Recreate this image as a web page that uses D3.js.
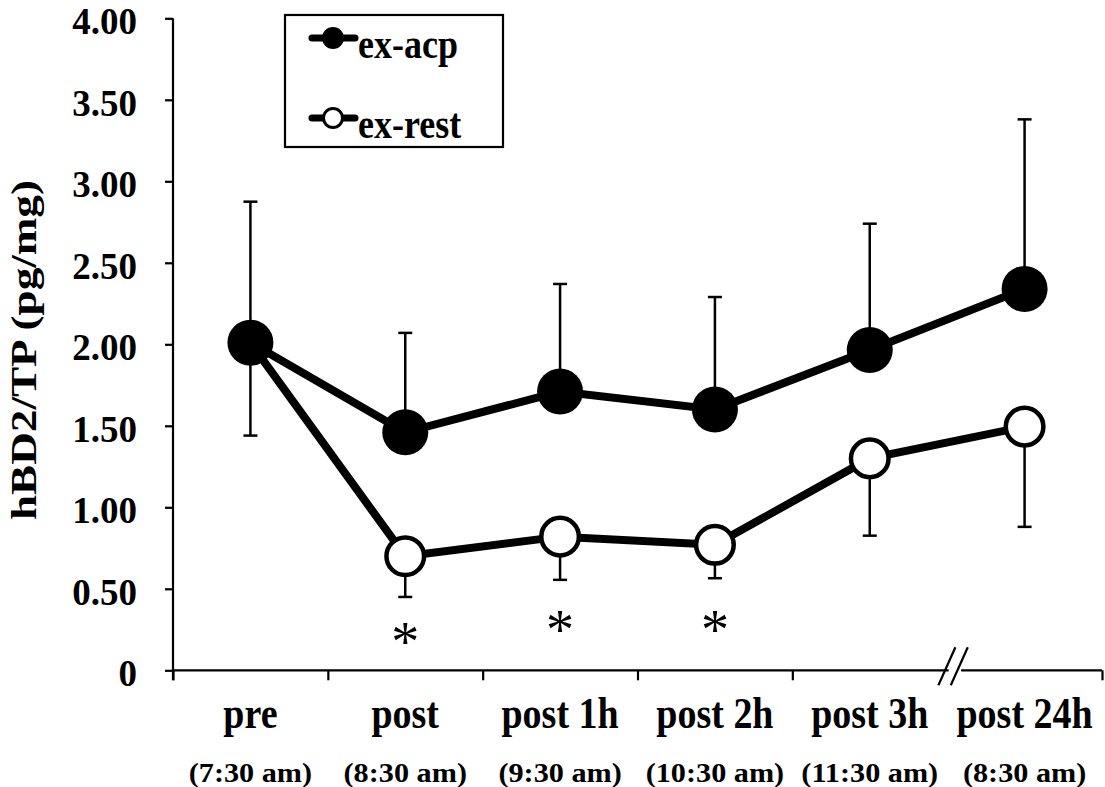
<!DOCTYPE html>
<html>
<head>
<meta charset="utf-8">
<script src="https://cdn.jsdelivr.net/npm/d3@7"></script>
<style>
  body { margin: 0; background: #fff; }
  text { font-family: "Liberation Serif", "Times New Roman", serif; font-weight: bold; fill: #000; }
</style>
</head>
<body>
<div id="chart"></div>
<script>
// categories and time labels
var categories = ["pre", "post", "post 1h", "post 2h", "post 3h", "post 24h"];
var times = ["(7:30 am)", "(8:30 am)", "(9:30 am)", "(10:30 am)", "(11:30 am)", "(8:30 am)"];

// series means
var acpMean = [2.01, 1.46, 1.71, 1.60, 1.965, 2.34];
var restMean = [2.01, 0.70, 0.82, 0.77, 1.30, 1.495];
// error bar ends (acp upward, rest downward)
var acpUpper = [2.875, 2.07, 2.37, 2.29, 2.74, 3.38];
var restLower = [1.44, 0.45, 0.555, 0.565, 0.826, 0.88];

// significance markers
var sigCats = ["post", "post 1h", "post 2h"];
var sigY = [0.223, 0.296, 0.296];

var yTicks = [0, 0.5, 1, 1.5, 2, 2.5, 3, 3.5, 4];
var legendNames = ["ex-acp", "ex-rest"];

function init() {
    var w = 1105, h = 787;
    var left = 173, right = 1102, top = 18.3, bottom = 670.3;

    var svg = d3.select("#chart").append("svg")
        .attr("width", w).attr("height", h);

    var x = d3.scaleBand().domain(categories).range([left, right]);
    var xEdge = d3.scaleLinear().domain([0, categories.length]).range([left, right]);
    var y = d3.scaleLinear().domain([0, 4]).range([bottom, top]);
    var cx = function(c) { return x(c) + x.bandwidth() / 2; };

    // y axis
    var yAxis = svg.append("g")
        .attr("transform", "translate(" + left + ",0)")
        .call(d3.axisLeft(y).tickValues(yTicks).tickSize(8).tickSizeOuter(0).tickPadding(28)
            .tickFormat(function(d) { return d === 0 ? "0" : d.toFixed(2); }));
    yAxis.select(".domain").attr("stroke-width", 2.2).attr("d", "M0," + top + "V" + (bottom + 10));
    yAxis.selectAll(".tick line").attr("stroke-width", 2.2);
    yAxis.selectAll(".tick text").style("font-size", "37px").attr("dy", "0.42em");

    // x axis with break between post 3h and post 24h
    var xAxis = svg.append("g")
        .attr("transform", "translate(0," + bottom + ")")
        .call(d3.axisBottom(xEdge).tickValues([0, 1, 2, 3, 4, 6]).tickSize(10).tickSizeOuter(0)
            .tickFormat(""));
    xAxis.select(".domain").remove();
    xAxis.selectAll(".tick line").attr("stroke-width", 2.2);
    var segs = [[0, 5.01], [5.09, 6]];
    xAxis.selectAll(".seg").data(segs).enter().append("line")
        .attr("x1", function(d) { return xEdge(d[0]); })
        .attr("x2", function(d) { return xEdge(d[1]); })
        .attr("stroke", "#000").attr("stroke-width", 2.2);
    xAxis.selectAll(".slash").data([4.995, 5.075]).enter().append("line")
        .attr("x1", function(d) { return xEdge(d) - 8; })
        .attr("x2", function(d) { return xEdge(d) + 9; })
        .attr("y1", 15).attr("y2", -23)
        .attr("stroke", "#000").attr("stroke-width", 2.2);

    // category labels (slightly tall glyphs as in the original)
    svg.selectAll(".cat").data(categories).enter().append("text")
        .attr("transform", function(d) { return "translate(" + cx(d) + ",728) scale(1,1.15)"; })
        .attr("text-anchor", "middle").style("font-size", "38px")
        .text(function(d) { return d; });
    // time labels (wide glyphs)
    svg.selectAll(".time").data(times).enter().append("text")
        .attr("transform", function(d, i) { return "translate(" + cx(categories[i]) + ",782) scale(1.12,1)"; })
        .attr("text-anchor", "middle").style("font-size", "27px")
        .text(function(d) { return d; });

    // y label
    svg.append("text")
        .attr("transform", "translate(24,350) rotate(-90)")
        .attr("text-anchor", "middle").attr("dominant-baseline", "central")
        .attr("textLength", 340).attr("lengthAdjust", "spacingAndGlyphs")
        .style("font-size", "35px")
        .text("hBD2/TP (pg/mg)");

    // error bars
    var cap = 7;
    function errBars(mean, end) {
        var g = svg.append("g").attr("stroke", "#000").attr("stroke-width", 2.5);
        categories.forEach(function(c, i) {
            g.append("line").attr("x1", cx(c)).attr("x2", cx(c))
                .attr("y1", y(mean[i])).attr("y2", y(end[i]));
            g.append("line").attr("x1", cx(c) - cap).attr("x2", cx(c) + cap)
                .attr("y1", y(end[i])).attr("y2", y(end[i]));
        });
    }
    errBars(acpMean, acpUpper);
    errBars(restMean, restLower);

    var line = d3.line()
        .x(function(d, i) { return cx(categories[i]); })
        .y(function(d) { return y(d); });

    // ex-rest
    svg.append("path").datum(restMean).attr("d", line)
        .attr("fill", "none").attr("stroke", "#000").attr("stroke-width", 8);
    svg.selectAll(".rest").data(restMean).enter().append("circle")
        .attr("cx", function(d, i) { return cx(categories[i]); })
        .attr("cy", function(d) { return y(d); })
        .attr("r", 18.8).attr("fill", "#fff").attr("stroke", "#000").attr("stroke-width", 4.5);

    // ex-acp
    svg.append("path").datum(acpMean).attr("d", line)
        .attr("fill", "none").attr("stroke", "#000").attr("stroke-width", 8);
    svg.selectAll(".acp").data(acpMean).enter().append("circle")
        .attr("cx", function(d, i) { return cx(categories[i]); })
        .attr("cy", function(d) { return y(d); })
        .attr("r", 23).attr("fill", "#000");

    // significance asterisks
    svg.selectAll(".sig").data(sigCats).enter().append("text")
        .attr("x", cx).attr("y", function(d, i) { return y(sigY[i]); })
        .attr("dy", "0.48em")
        .attr("text-anchor", "middle")
        .style("font-size", "56px").style("font-weight", "normal")
        .text("*");

    // legend
    var lg = svg.append("g").attr("transform", "translate(285,15)");
    lg.append("rect").attr("width", 218).attr("height", 132)
        .attr("fill", "#fff").attr("stroke", "#000").attr("stroke-width", 2.2);
    var rows = lg.selectAll(".row").data(legendNames).enter().append("g")
        .attr("transform", function(d, i) { return "translate(0," + (23 + i * 80) + ")"; });
    rows.append("line").attr("x1", 27).attr("x2", 70)
        .attr("stroke", "#000").attr("stroke-width", 7).attr("stroke-linecap", "round");
    rows.append("circle").attr("cx", 48).attr("r", function(d, i) { return i === 0 ? 11 : 9.5; })
        .attr("fill", function(d, i) { return i === 0 ? "#000" : "#fff"; })
        .attr("stroke", "#000").attr("stroke-width", function(d, i) { return i === 0 ? 0 : 3; });
    rows.append("text").attr("transform", "translate(73,20) scale(1,1.15)")
        .style("font-size", "36px")
        .text(function(d) { return d; });
}

window.onload = init;
</script>
</body>
</html>
